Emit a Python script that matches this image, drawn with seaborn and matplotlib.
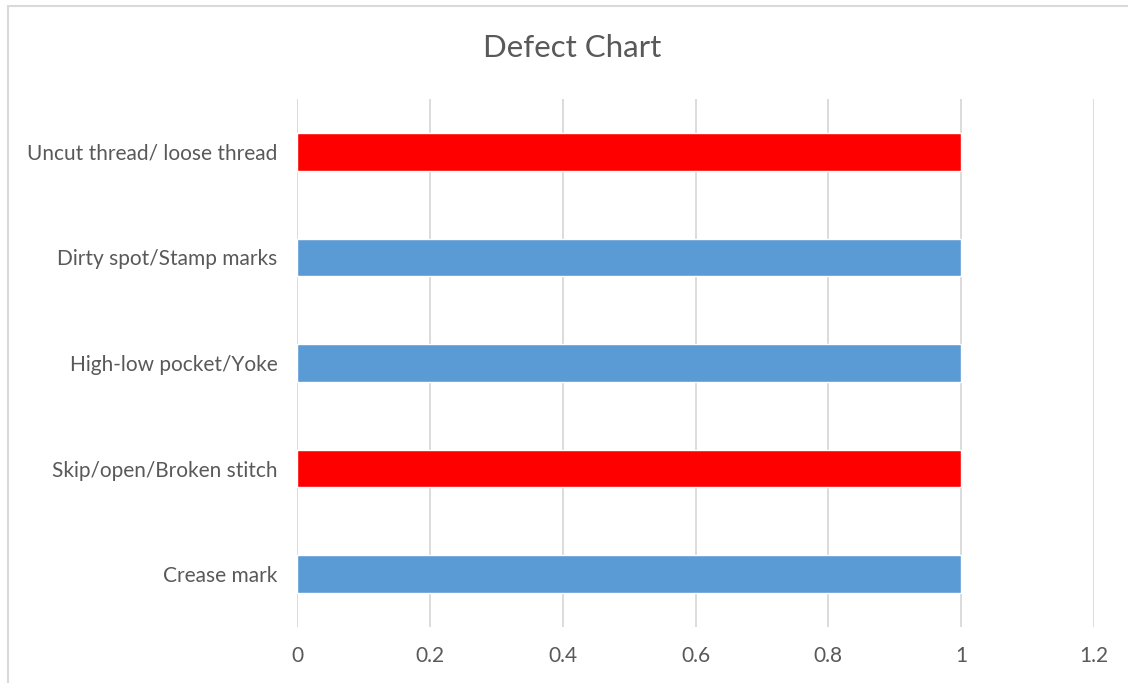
import matplotlib
matplotlib.use("Agg")
import matplotlib.pyplot as plt
from matplotlib.lines import Line2D
import seaborn as sns
import pandas as pd

# Defect categories (top to bottom) and their counts
categories = [
    "Uncut thread/ loose thread",
    "Dirty spot/Stamp marks",
    "High-low pocket/Yoke",
    "Skip/open/Broken stitch",
    "Crease mark",
]
counts = [1, 1, 1, 1, 1]
bar_colors = ["#FF0000", "#5B9BD5", "#5B9BD5", "#FF0000", "#5B9BD5"]
x_ticks = [0, 0.2, 0.4, 0.6, 0.8, 1, 1.2]
x_tick_labels = ["0", "0.2", "0.4", "0.6", "0.8", "1", "1.2"]

sns.set_theme(style="white")
plt.rcParams["font.family"] = ["Lato", "DejaVu Sans"]

text_color = "#595959"
grid_color = "#D9D9D9"

df = pd.DataFrame({"defect": categories, "count": counts})

fig = plt.figure(figsize=(11.28, 6.83), dpi=100)
ax = fig.add_axes([297 / 1128, 1 - 627 / 683, (1094 - 297) / 1128, (627 - 99) / 683])

sns.barplot(
    data=df, x="count", y="defect", hue="defect", order=categories,
    hue_order=categories, palette=bar_colors, orient="h", width=0.355,
    saturation=1, legend=False, ax=ax, zorder=3,
)

ax.set_xlim(0, 1.2)
ax.set_ylim(len(categories) - 0.5, -0.5)
ax.set_xticks(x_ticks)
ax.set_xticklabels(x_tick_labels)
ax.xaxis.grid(True, color=grid_color, linewidth=1.3, zorder=0)
ax.yaxis.grid(False)
ax.set_axisbelow(True)
for side in ["top", "right", "bottom", "left"]:
    ax.spines[side].set_visible(False)
ax.tick_params(axis="x", length=0, pad=14, labelsize=15, labelcolor=text_color)
ax.tick_params(axis="y", length=0, pad=14, labelsize=15, labelcolor=text_color)
ax.set_xlabel("")
ax.set_ylabel("")

fig.text(572 / 1128, 1 - 48 / 683, "Defect Chart", ha="center", va="center",
         fontsize=22.5, color=text_color)

# Chart-area frame (left and top edges)
fig.add_artist(Line2D([8 / 1128, 8 / 1128], [0, 1 - 6 / 683],
                      transform=fig.transFigure, color=grid_color, linewidth=1.5))
fig.add_artist(Line2D([8 / 1128, 1], [1 - 6 / 683, 1 - 6 / 683],
                      transform=fig.transFigure, color=grid_color, linewidth=1.5))

fig.savefig("out.png", dpi=100, facecolor="white")
